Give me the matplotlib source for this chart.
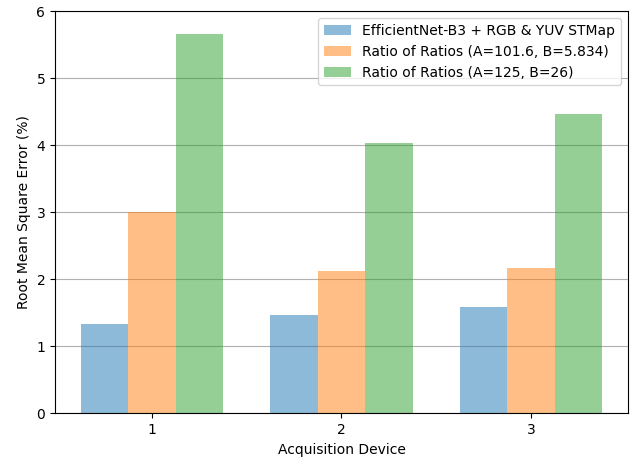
import matplotlib
matplotlib.use("Agg")
import matplotlib.pyplot as plt
import numpy as np

devices = ["1", "2", "3"]
effnet = [1.33, 1.47, 1.59]
ror_a = [3.00, 2.13, 2.17]
ror_b = [5.66, 4.03, 4.47]
labels = ["EfficientNet-B3 + RGB & YUV STMap",
          "Ratio of Ratios (A=101.6, B=5.834)",
          "Ratio of Ratios (A=125, B=26)"]

x = np.arange(1, len(devices) + 1)
width = 0.25

fig = plt.figure(figsize=(6.31, 4.58), dpi=100)
ax = fig.add_axes([0.0872, 0.0976, 0.908, 0.878])

ax.bar(x - width, effnet, width, alpha=0.5, label=labels[0])
ax.bar(x, ror_a, width, alpha=0.5, label=labels[1])
ax.bar(x + width, ror_b, width, alpha=0.5, label=labels[2])

ax.set_xticks(x)
ax.set_xticklabels(devices)
ax.set_ylim(0, 6)
ax.yaxis.grid(True)
ax.set_axisbelow(True)
ax.set_xlabel("Acquisition Device")
ax.set_ylabel("Root Mean Square Error (%)")
ax.legend(loc="upper right")

fig.savefig("out.png", dpi=100)
